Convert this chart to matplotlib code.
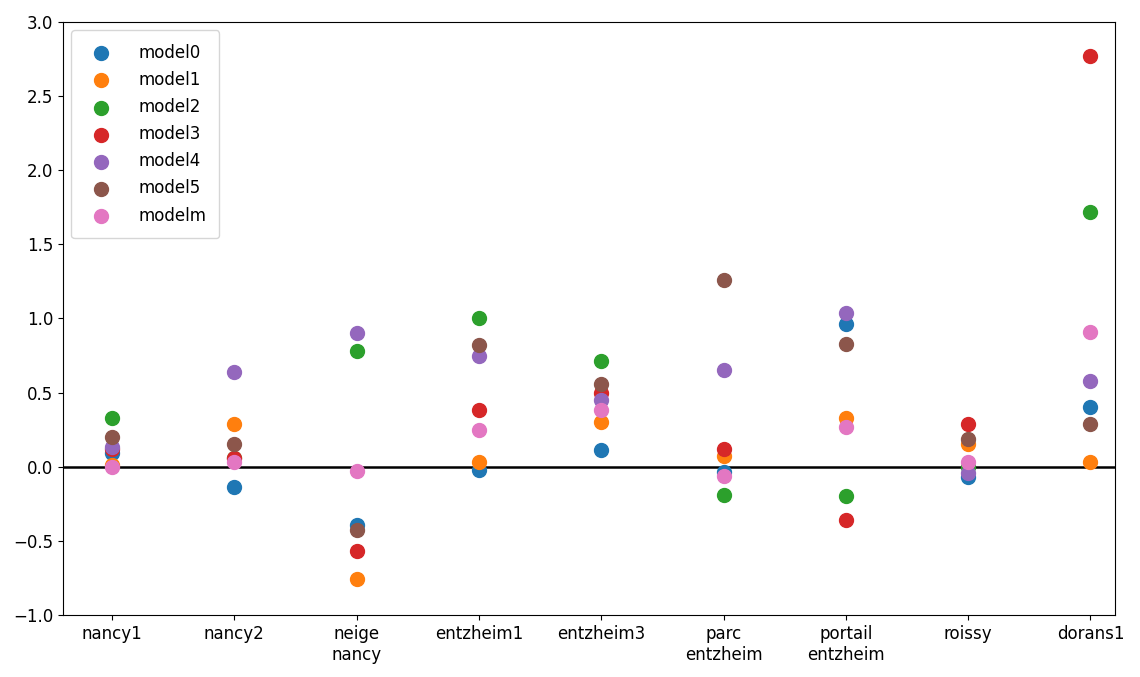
import numpy as np
import matplotlib
matplotlib.use("Agg")
import matplotlib.pyplot as plt

sites = ["nancy1", "nancy2", "neige\nnancy", "entzheim1", "entzheim3",
         "parc\nentzheim", "portail\nentzheim", "roissy", "dorans1"]

model0 = [0.09, -0.14, -0.39, -0.02, 0.11, -0.035, 0.965, -0.07, 0.405]
model1 = [0.01, 0.29, -0.76, 0.03, 0.30, 0.07, 0.33, 0.15, 0.03]
model2 = [0.33, 0.06, 0.78, 1.00, 0.715, -0.19, -0.20, 0.00, 1.72]
model3 = [0.12, 0.06, -0.57, 0.385, 0.50, 0.12, -0.36, 0.29, 2.77]
model4 = [0.13, 0.64, 0.90, 0.75, 0.45, 0.655, 1.04, -0.04, 0.58]
model5 = [0.20, 0.15, -0.43, 0.82, 0.555, 1.26, 0.825, 0.19, 0.29]
modelm = [0.00, 0.03, -0.03, 0.25, 0.385, -0.065, 0.27, 0.03, 0.91]

series = [("model0", model0), ("model1", model1), ("model2", model2),
          ("model3", model3), ("model4", model4), ("model5", model5),
          ("modelm", modelm)]


def main():
    fig = plt.figure(figsize=(11.4, 6.77), dpi=100)
    ax = fig.add_axes([0.0553, 0.0916, 0.9227, 0.876])
    x = np.arange(len(sites))
    for name, vals in series:
        ax.scatter(x, vals, s=100, label=name, zorder=3)
    ax.axhline(0, color="black", linewidth=1.8, zorder=2)
    ax.set_xticks(x)
    ax.set_xticklabels(sites, fontsize=12)
    ax.set_xlim(-0.4, 8.2)
    ax.set_ylim(-1.0, 3.0)
    ax.set_yticks(np.arange(-1.0, 3.01, 0.5))
    ax.tick_params(axis="y", labelsize=12)
    ax.legend(loc="upper left", fontsize=12, borderpad=0.8, labelspacing=0.55,
              handletextpad=1.2)
    fig.savefig("out.png", dpi=100)


if __name__ == "__main__":
    main()
